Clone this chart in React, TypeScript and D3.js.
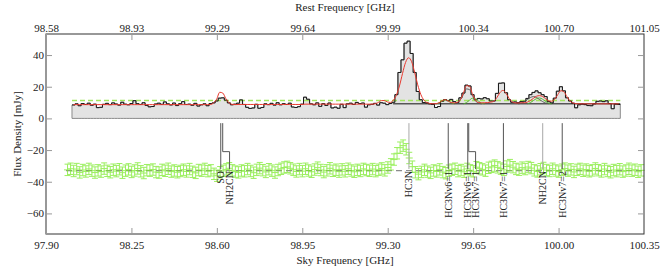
import React, { useEffect, useRef } from "react";
import * as d3 from "d3";

const WIDTH = 664;
const HEIGHT = 266;
// plot frame
const frame = { left: 46, right: 644, top: 34, bottom: 234 };

// axes
const skyTicks = [97.9, 98.25, 98.6, 98.95, 99.3, 99.65, 100.0, 100.35];
const restTickLabels = ["98.58", "98.93", "99.29", "99.64", "99.99", "100.34", "100.70", "101.05"];
const fluxTicks = [-60, -40, -20, 0, 20, 40];

// observed spectrum (mJy), one value per channel
const specStart = 98.0065;
const specChannel = 0.01248;
const spectrum = [
  8.5, 9.2, 8.0, 9.4, 8.8, 9.6, 8.3, 9.0, 6.8, 7.0,
  8.9, 9.5, 8.7, 9.8, 9.1, 8.4, 10.2, 9.0, 8.6, 9.4,
  11.2, 9.3, 8.8, 9.9, 8.2, 7.3, 7.5, 9.1, 9.6, 8.9,
  10.4, 9.2, 8.5, 9.7, 8.1, 9.3, 10.6, 8.8, 9.0, 8.3,
  9.5, 7.8, 8.6, 9.2, 8.0, 9.4, 9.8, 11.0, 12.8, 13.0,
  11.5, 9.8, 8.6, 9.0, 9.6, 11.7, 8.8, 7.0, 6.3, 6.6,
  8.9, 6.4, 6.9, 9.2, 8.7, 9.5, 8.4, 9.9, 8.6, 9.3,
  8.8, 9.6, 7.2, 6.9, 7.4, 9.0, 13.4, 12.1, 9.2, 8.6,
  9.8, 7.6, 9.3, 8.2, 9.7, 6.6, 7.1, 6.4, 8.9, 6.8,
  9.2, 9.6, 8.8, 10.1, 9.4, 9.7, 7.1, 8.6, 8.9, 9.5,
  8.4, 9.9, 9.6, 8.7, 9.4, 10.2, 15.0, 29.0, 37.0, 47.5,
  48.8, 41.0, 29.0, 17.0, 11.8, 10.0, 9.8, 9.2, 8.8, 6.9,
  7.5, 10.8, 11.9, 11.2, 12.0, 10.6, 10.0, 13.0, 16.0, 21.0,
  20.5, 15.0, 11.8, 12.6, 12.3, 13.1, 12.4, 11.0, 11.0, 15.8,
  22.2, 22.4, 16.2, 11.8, 10.2, 10.4, 9.9, 10.6, 10.8, 12.6,
  15.0, 16.4, 17.4, 16.2, 15.0, 13.8, 10.6, 9.8, 12.8, 17.2,
  20.0, 17.4, 13.0, 11.0, 9.6, 6.7, 8.6, 9.0, 8.7, 8.1,
  8.0, 9.2, 10.8, 11.0, 10.6, 11.1, 9.4, 6.1, 9.0, 8.8
];

// total fitted model on the same channels
const model = [
  8.7, 8.7, 8.7, 8.7, 8.7, 8.7, 8.7, 8.7, 8.7, 8.7,
  8.7, 8.7, 8.7, 8.7, 8.7, 8.7, 8.7, 8.7, 8.7, 8.7,
  8.7, 8.7, 8.7, 8.7, 8.7, 8.7, 8.7, 8.7, 8.7, 8.7,
  8.7, 8.7, 8.7, 8.7, 8.7, 8.7, 8.7, 8.7, 8.7, 8.7,
  8.7, 8.7, 8.7, 8.7, 8.7, 8.8, 9.8, 12.2, 16.5, 16.0,
  12.5, 9.9, 8.9, 8.7, 8.8, 8.8, 8.8, 8.8, 8.8, 8.8,
  8.8, 8.8, 8.8, 8.8, 8.8, 8.8, 8.8, 8.8, 8.8, 8.8,
  8.8, 8.8, 8.8, 8.8, 8.8, 8.8, 9.0, 9.0, 9.0, 9.0,
  9.0, 9.0, 9.0, 9.0, 9.0, 9.0, 9.0, 9.0, 9.0, 9.0,
  9.0, 9.0, 9.0, 9.0, 9.0, 9.0, 9.0, 9.0, 9.0, 9.2,
  10.0, 11.2, 11.3, 10.4, 10.1, 11.5, 14.8, 20.5, 28.3, 35.3,
  38.3, 35.8, 29.0, 21.2, 15.2, 11.6, 10.0, 9.4, 9.2, 9.3,
  9.9, 11.2, 11.8, 11.0, 10.0, 9.8, 10.2, 11.8, 16.0, 20.7,
  20.3, 15.2, 11.4, 10.0, 9.8, 9.9, 10.0, 10.3, 10.8, 13.2,
  16.3, 17.7, 15.8, 12.6, 10.5, 9.8, 9.7, 9.9, 9.9, 10.3,
  11.3, 12.7, 14.0, 14.4, 13.8, 12.4, 11.1, 10.9, 12.2, 15.1,
  17.5, 16.8, 13.7, 11.0, 9.7, 9.3, 9.2, 9.2, 9.2, 9.2,
  9.2, 9.2, 9.2, 9.2, 9.2, 9.2, 9.2, 9.2, 9.2, 9.2
];

// individual fitted components (start channel + values)
const compGrayA = { start: 125, values: [9.3, 10.0, 11.8, 15.2, 18.6, 18.2, 14.3, 11.0, 9.6, 9.2] };
const compGrayB = { start: 146, values: [9.2, 9.6, 10.5, 11.9, 13.2, 13.8, 13.2, 11.9, 10.6, 9.7, 9.3] };
const compGreenA = { start: 119, values: [9.2, 9.8, 10.9, 11.6, 11.0, 9.9, 9.2] };
const compGreenB = { start: 128, values: [9.2, 10.0, 11.5, 12.8, 12.4, 10.8, 9.6, 9.2] };
const compGreenC = { start: 149, values: [9.2, 10.0, 11.3, 12.5, 12.9, 12.1, 10.7, 9.6, 9.2] };

const continuumLevel = 9.2;
const continuumFrom = 99.322;
const detectionLevel = 11.3;

// residuals, shifted down
const residStart = 97.982;
const residChannel = 0.0125;
const residualOffset = -33;
const residualError = 3.6;
const residual = [
  -32.5, -31.8, -33.2, -32.0, -34.1, -32.6, -33.5, -31.9, -33.0, -34.2,
  -32.8, -33.6, -31.7, -33.1, -34.0, -32.4, -33.3, -32.1, -34.3, -33.0,
  -32.2, -33.8, -32.9, -31.6, -33.4, -34.5, -32.7, -33.0, -32.3, -33.9,
  -34.2, -32.5, -33.1, -31.8, -33.6, -32.9, -34.0, -33.2, -32.4, -33.5,
  -32.0, -33.7, -34.4, -32.6, -33.0, -31.9, -33.3, -32.8, -35.0, -36.2,
  -34.0, -33.1, -32.2, -31.5, -32.8, -33.6, -34.1, -32.9, -33.4, -32.0,
  -33.2, -34.3, -32.5, -31.4, -32.7, -33.8, -32.1, -33.0, -34.2, -32.6,
  -31.8, -31.0, -30.6, -31.5, -32.4, -33.5, -32.0, -33.3, -31.8, -32.9,
  -33.7, -32.3, -31.1, -32.6, -33.9, -32.8, -31.5, -33.1, -32.4, -33.6,
  -32.2, -33.4, -31.8, -32.9, -33.7, -32.5, -33.2, -31.9, -32.6, -33.1,
  -32.0, -33.3, -32.4, -31.6, -32.8, -31.0, -29.0, -26.0, -22.0, -18.5,
  -17.2, -19.5, -25.0, -30.5, -34.0, -35.2, -33.8, -32.5, -33.6, -34.4,
  -32.9, -33.5, -32.2, -33.9, -34.6, -33.0, -32.4, -31.8, -33.3, -32.6,
  -33.7, -31.9, -32.8, -33.4, -30.8, -31.5, -32.2, -33.0, -31.2, -30.6,
  -29.8, -30.9, -31.7, -32.5, -30.4, -29.5, -30.8, -31.9, -32.4, -31.1,
  -32.0, -30.7, -31.4, -32.8, -33.5, -32.1, -31.3, -32.6, -33.2, -31.8,
  -32.9, -33.6, -32.4, -31.7, -33.0, -32.2, -33.8, -32.5, -31.9, -33.1,
  -32.3, -33.4, -32.8, -31.6, -32.7, -33.5, -32.0, -33.2, -34.0, -32.6,
  -33.3, -32.1, -33.6, -32.9, -31.8, -33.0, -32.4, -33.7, -32.8
];

// identified lines (sky frequency, GHz)
const lineNames = ["SO", "NH2CN", "HC3N", "HC3Nv6=1", "HC3Nv6=1", "HC3Nv7=1", "HC3Nv7=1", "NH2CN", "HC3Nv7=2"];
const lineFreqs = [98.616, 98.624, 99.387, 99.548, 99.628, 99.632, 99.774, 99.935, 100.015];
const faintLines = [2, 7];

const serif = "'Liberation Serif', 'Times New Roman', serif";

export default function App() {
  const ref = useRef<SVGSVGElement>(null);

  useEffect(() => {
    const svg = d3.select(ref.current);
    svg.selectAll("*").remove();

    const x = d3.scaleLinear().domain([97.9, 100.35]).range([frame.left, frame.right]);
    const y = d3.scaleLinear().domain([-73, 53.3]).range([frame.bottom, frame.top]);

    const specCenter = (i: number) => specStart + specChannel * (i + 0.5);

    // gray filled histogram
    const edges = d3.range(spectrum.length + 1).map((i) => ({
      f: specStart + specChannel * i,
      v: spectrum[Math.min(i, spectrum.length - 1)]
    }));
    const area = d3
      .area<{ f: number; v: number }>()
      .x((d) => x(d.f))
      .y0(y(0))
      .y1((d) => y(d.v))
      .curve(d3.curveStepAfter);
    svg.append("path").datum(edges).attr("d", area).attr("fill", "#e3e3e3").attr("stroke", "#8a8a8a").attr("stroke-width", 1);

    // detection level
    svg
      .append("line")
      .attr("x1", x(specStart))
      .attr("x2", x(specStart + specChannel * spectrum.length))
      .attr("y1", y(detectionLevel))
      .attr("y2", y(detectionLevel))
      .attr("stroke", "#a4e660")
      .attr("stroke-width", 1.6)
      .attr("stroke-dasharray", "5,3");

    // spectrum step line
    const step = d3
      .line<{ f: number; v: number }>()
      .x((d) => x(d.f))
      .y((d) => y(d.v))
      .curve(d3.curveStepAfter);
    svg.append("path").datum(edges).attr("d", step).attr("fill", "none").attr("stroke", "#1a1a1a").attr("stroke-width", 1);

    // continuum of the components
    svg
      .append("line")
      .attr("x1", x(continuumFrom))
      .attr("x2", x(specStart + specChannel * spectrum.length))
      .attr("y1", y(continuumLevel))
      .attr("y2", y(continuumLevel))
      .attr("stroke", "#111")
      .attr("stroke-width", 1);

    const smooth = d3.line<number>().curve(d3.curveMonotoneX);
    const drawComp = (c: { start: number; values: number[] }, color: string) => {
      smooth.x((_, k) => x(specCenter(c.start + k))).y((d) => y(d));
      svg.append("path").datum(c.values).attr("d", smooth).attr("fill", "none").attr("stroke", color).attr("stroke-width", 0.9);
    };
    drawComp(compGrayA, "#555");
    drawComp(compGrayB, "#555");
    drawComp(compGreenA, "#4caf2a");
    drawComp(compGreenB, "#4caf2a");
    drawComp(compGreenC, "#4caf2a");

    // model
    smooth.x((_, i) => x(specCenter(i))).y((d) => y(d));
    svg.append("path").datum(model).attr("d", smooth).attr("fill", "none").attr("stroke", "#e8392f").attr("stroke-width", 1);

    // residuals
    const residEnd = residStart + residChannel * residual.length;
    svg
      .append("line")
      .attr("x1", x(residStart))
      .attr("x2", Math.min(x(residEnd), frame.right))
      .attr("y1", y(residualOffset))
      .attr("y2", y(residualOffset))
      .attr("stroke", "#8c8c8c")
      .attr("stroke-width", 1.2)
      .attr("stroke-dasharray", "6,4");

    const rg = svg.append("g").attr("stroke", "#7aea2a").attr("stroke-width", 1).attr("opacity", 0.75);
    residual.forEach((v, j) => {
      const f0 = residStart + residChannel * j;
      const fc = f0 + residChannel / 2;
      const cap = 3;
      rg.append("line")
        .attr("x1", x(f0) - 2)
        .attr("x2", x(f0 + residChannel) + 2)
        .attr("y1", y(v))
        .attr("y2", y(v));
      rg.append("line")
        .attr("x1", x(fc))
        .attr("x2", x(fc))
        .attr("y1", y(v - residualError))
        .attr("y2", y(v + residualError));
      [v - residualError, v + residualError].forEach((e) => {
        rg.append("line")
          .attr("x1", x(fc) - cap)
          .attr("x2", x(fc) + cap)
          .attr("y1", y(e))
          .attr("y2", y(e));
      });
    });

    // line markers
    const markerTop = y(-3);
    const markerBend = y(-21);
    const markerEnd = y(-32);
    const labelShift = 0.028;
    lineFreqs.forEach((f, i) => {
      const lx = x(f);
      const shifted = i > 0 && f - lineFreqs[i - 1] < 0.01;
      const tx = shifted ? x(f + labelShift) : lx;
      const color = faintLines.includes(i) ? "#a8a8a8" : "#555";
      const pts: [number, number][] = shifted
        ? [
            [lx, markerTop],
            [lx, markerBend],
            [tx, markerBend],
            [tx, markerEnd]
          ]
        : [
            [lx, markerTop],
            [lx, markerEnd]
          ];
      svg.append("path").attr("d", d3.line()(pts)).attr("fill", "none").attr("stroke", color).attr("stroke-width", 1);
      svg
        .append("text")
        .attr("transform", `translate(${tx},${markerEnd + 2}) rotate(-90)`)
        .attr("text-anchor", "end")
        .attr("dominant-baseline", "central")
        .attr("font-family", serif)
        .attr("font-size", 10)
        .attr("fill", "#222")
        .text(lineNames[i]);
    });

    // frame
    svg
      .append("rect")
      .attr("x", frame.left)
      .attr("y", frame.top)
      .attr("width", frame.right - frame.left)
      .attr("height", frame.bottom - frame.top)
      .attr("fill", "none")
      .attr("stroke", "#333")
      .attr("stroke-width", 1);

    // axes
    const styleAxis = (g: d3.Selection<SVGGElement, unknown, null, undefined>) => {
      g.select(".domain").remove();
      g.selectAll(".tick line").attr("stroke", "#999");
      g.selectAll("text").attr("font-family", serif).attr("font-size", 11).attr("fill", "#222");
      g.attr("font-family", serif);
    };
    svg
      .append("g")
      .attr("transform", `translate(0,${frame.bottom})`)
      .call(d3.axisBottom(x).tickValues(skyTicks).tickFormat((d) => (+d).toFixed(2)).tickSize(-6).tickPadding(7))
      .call(styleAxis);
    svg
      .append("g")
      .attr("transform", `translate(0,${frame.top})`)
      .call(d3.axisTop(x).tickValues(skyTicks).tickFormat((_, i) => restTickLabels[i]).tickSize(-6).tickPadding(2))
      .call(styleAxis);
    svg
      .append("g")
      .attr("transform", `translate(${frame.left},0)`)
      .call(
        d3
          .axisLeft(y)
          .tickValues(fluxTicks)
          .tickFormat((d) => String(d).replace("-", "\u2212"))
          .tickSize(-6)
          .tickPadding(2)
      )
      .call(styleAxis);
    svg
      .append("g")
      .attr("transform", `translate(${frame.right},0)`)
      .call(d3.axisRight(y).tickValues(fluxTicks).tickFormat(() => "").tickSize(-6))
      .call(styleAxis);

    // axis titles
    const cx = (frame.left + frame.right) / 2;
    const title = (t: string) =>
      svg.append("text").attr("font-family", serif).attr("font-size", 11).attr("fill", "#222").text(t);
    title("Sky Frequency [GHz]").attr("x", cx).attr("y", 264).attr("text-anchor", "middle");
    title("Rest Frequency [GHz]").attr("x", cx).attr("y", 11).attr("text-anchor", "middle");
    title("Flux Density [mJy]")
      .attr("transform", `translate(17,${(frame.top + frame.bottom) / 2}) rotate(-90)`)
      .attr("text-anchor", "middle")
      .attr("dominant-baseline", "central");
  }, []);

  return (
    <svg
      ref={ref}
      width={WIDTH}
      height={HEIGHT}
      style={{ position: "absolute", left: 0, top: 0, background: "#fff" }}
    />
  );
}
